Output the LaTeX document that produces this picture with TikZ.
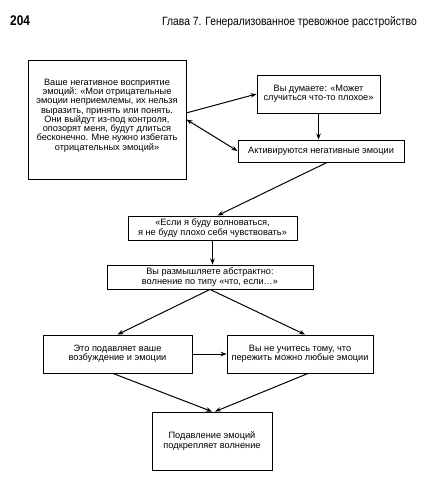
\documentclass[tikz,border=0pt]{standalone}
\usepackage{fontspec}
\usepackage{graphicx}
\setmainfont{Liberation Sans}
\usetikzlibrary{arrows.meta,calc}
\tikzset{
  txt/.style={align=center, inner sep=0pt, font=\fontsize{9.2}{9.3}\selectfont},
  box/.style={draw, line width=0.9pt, txt},
  arr/.style={line width=1pt, -{Stealth[length=6pt,width=4.5pt]}},
  darr/.style={line width=1pt, {Stealth[length=6pt,width=4.5pt]}-{Stealth[length=6pt,width=4.5pt]}}
}
\begin{document}
\begin{tikzpicture}[x=1pt,y=-1pt]
\useasboundingbox (0,0) rectangle (438,478);
\node[anchor=base west, font=\fontsize{14}{14}\selectfont\bfseries, inner sep=0pt] (pg) at (10,25.5) {\scalebox{0.85}[1]{204}};
\node[anchor=base west, font=\fontsize{12}{12}\selectfont, inner sep=0pt] (hd) at (162,25.5) {\scalebox{0.86}[1]{Глава 7. Генерализованное тревожное расстройство}};

\node[box, minimum width=158pt, minimum height=119pt] (A) at (107,119.5) {};
\node[txt] (At) at ($(A.center)+(0,-4)$)
 {Ваше негативное восприятие\\ эмоций: «Мои отрицательные\\ эмоции неприемлемы, их нельзя\\ выразить, принять или понять.\\ Они выйдут из-под контроля,\\ опозорят меня, будут длиться\\ бесконечно. Мне нужно избегать\\ отрицательных эмоций»};
\node[box, minimum width=123pt, minimum height=38pt] (B) at (318.5,94)
 {Вы думаете: «Может\\ случиться что-то плохое»};
\node[box, minimum width=166pt, minimum height=22pt] (C) at (321,151)
 {Активируются негативные эмоции};
\node[box, minimum width=169pt, minimum height=24pt] (D) at (212.5,228)
 {«Если я буду волноваться,\\ я не буду плохо себя чувствовать»};
\node[box, minimum width=206pt, minimum height=24pt] (E) at (210,277)
 {Вы размышляете абстрактно:\\ волнение по типу «что, если…»};
\node[box, minimum width=149pt, minimum height=38pt] (F) at (117.5,354)
 {Это подавляет ваше\\ возбуждение и эмоции};
\node[box, minimum width=146pt, minimum height=38pt] (G) at (300,354)
 {Вы не учитесь тому, что\\ пережить можно любые эмоции};
\node[box, minimum width=120pt, minimum height=58pt] (H) at (212,441)
 {Подавление эмоций\\ подкрепляет волнение};

\draw[arr] ($(A.north east)!0.445!(A.south east)$) -- (B.west);
\draw[darr] (A.east) -- (C.west);
\draw[arr] (B.south) -- (B.south |- C.north);
\draw[arr] ($(C.south)+(6,0)$) -- ($(D.north)+(5,0)$);
\draw[arr] (D.south) -- (D.south |- E.north);
\draw[arr] (E.south) -- (F.north);
\draw[arr] (E.south) -- ($(G.north)+(5,0)$);
\draw[arr] (F.east) -- (G.west);
\draw[arr] ($(F.south)+(-4.5,0)$) -- (H.north);
\draw[arr] ($(G.south)+(8,0)$) -- ($(H.north)+(3,0)$);
\end{tikzpicture}
\end{document}
